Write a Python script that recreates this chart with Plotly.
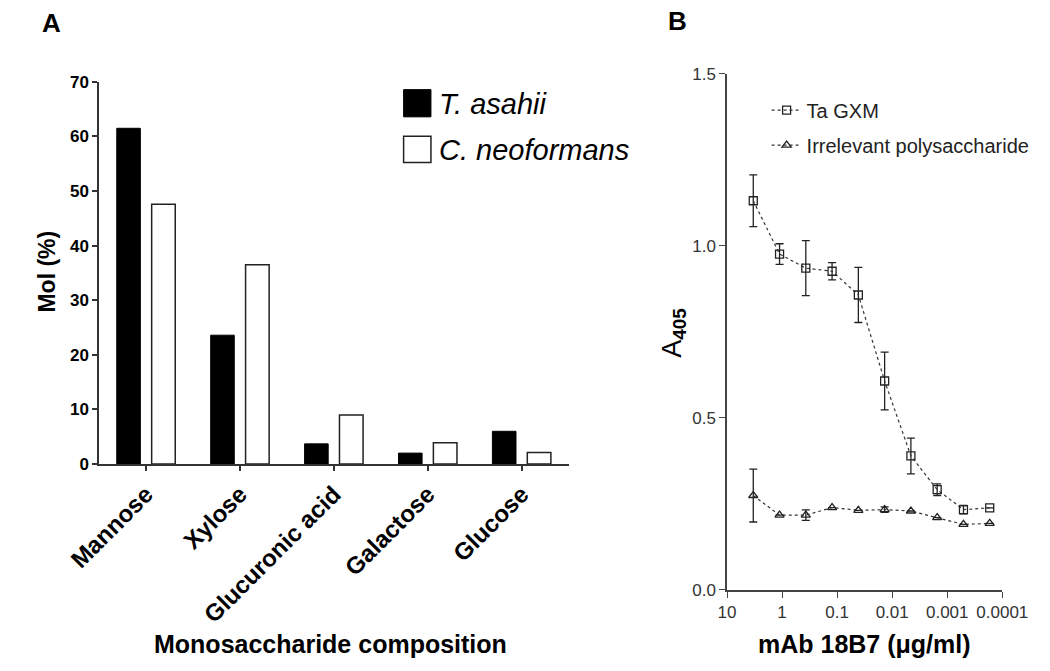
import plotly.graph_objects as go

# ---------------- Data ----------------
categories = ["Mannose", "Xylose", "Glucuronic acid", "Galactose", "Glucose"]
t_asahii = [61.5, 23.6, 3.7, 2.0, 6.0]
c_neoformans = [47.6, 36.5, 9.0, 3.9, 2.1]

mab_conc = [3.333, 1.111, 0.3704, 0.1235, 0.04115, 0.01372, 0.004572, 0.001524, 0.000508, 0.0001694]
ta_gxm = [1.131, 0.976, 0.935, 0.926, 0.857, 0.607, 0.389, 0.291, 0.233, 0.238]
ta_gxm_err = [0.075, 0.03, 0.08, 0.025, 0.08, 0.084, 0.052, 0.017, 0.012, 0.0]
irrelevant = [0.274, 0.217, 0.217, 0.239, 0.231, 0.233, 0.229, 0.210, 0.190, 0.193]
irrelevant_err = [0.077, 0.0, 0.015, 0.0, 0.0, 0.008, 0.0, 0.0, 0.0, 0.0]

x_tickvals = [10, 1, 0.1, 0.01, 0.001, 0.0001]
x_ticktext = ["10", "1", "0.1", "0.01", "0.001", "0.0001"]
y_tickvals_b = [0.0, 0.5, 1.0, 1.5]
y_ticktext_b = ["0.0", "0.5", "1.0", "1.5"]

W, H = 1050, 671
FONT = "Liberation Sans, Arial, Helvetica, sans-serif"


def px_x(p):
    return p / W


def px_y(p):
    return 1 - p / H


fig = go.Figure()

# ---------------- Panel A ----------------
fig.add_trace(go.Bar(
    x=categories, y=t_asahii, name="T. asahii",
    marker=dict(color="black", line=dict(color="black", width=1)),
    xaxis="x", yaxis="y", showlegend=False,
))
fig.add_trace(go.Bar(
    x=categories, y=c_neoformans, name="C. neoformans",
    marker=dict(color="white", line=dict(color="#222", width=1.5)),
    xaxis="x", yaxis="y", showlegend=False,
))

# ---------------- Panel B ----------------
line_col = "#333"
fig.add_trace(go.Scatter(
    x=mab_conc, y=ta_gxm, name="Ta GXM", mode="lines+markers",
    line=dict(color=line_col, width=1.2, dash="dot"),
    marker=dict(symbol="square-open", size=8, color="#222", line=dict(width=1.3)),
    error_y=dict(type="data", array=ta_gxm_err, visible=True, color="#222", thickness=1.3, width=4),
    xaxis="x2", yaxis="y2", legendgroup="g1",
))
fig.add_trace(go.Scatter(
    x=mab_conc, y=irrelevant, name="Irrelevant polysaccharide", mode="lines+markers",
    line=dict(color=line_col, width=1.2, dash="dot"),
    marker=dict(symbol="triangle-up-open", size=8, color="#222", line=dict(width=1.3)),
    error_y=dict(type="data", array=irrelevant_err, visible=True, color="#222", thickness=1.3, width=4),
    xaxis="x2", yaxis="y2", legendgroup="g2",
))

axis_common = dict(showgrid=False, zeroline=False, showline=True, ticks="outside")

fig.update_layout(
    width=W, height=H,
    margin=dict(l=0, r=0, t=0, b=0),
    paper_bgcolor="white", plot_bgcolor="white",
    font=dict(family=FONT, color="black"),
    barmode="group", bargap=0.257, bargroupgap=0.324,
    xaxis=dict(
        domain=[px_x(69), px_x(567)], anchor="y",
        type="category", categoryorder="array", categoryarray=categories,
        range=[-0.5, 4.5],
        linecolor="#333", linewidth=1.5, tickcolor="#333", ticklen=5, tickwidth=1.5,
        tickangle=-45, tickfont=dict(family=FONT, size=24, color="black", weight="bold"),
        **axis_common,
    ),
    yaxis=dict(
        domain=[px_y(468.3), px_y(75)], anchor="x",
        range=[0, 70], dtick=10, tick0=0,
        linecolor="#333", linewidth=1.5, tickcolor="#333", ticklen=5, tickwidth=1.5,
        tickfont=dict(family=FONT, size=17, color="black", weight="bold"),
        **axis_common,
    ),
    xaxis2=dict(
        domain=[px_x(735), px_x(1027)], anchor="y2",
        type="log", range=[1, -4],
        tickmode="array", tickvals=x_tickvals, ticktext=x_ticktext,
        linecolor="#444", linewidth=1.5, tickcolor="#444", ticklen=6, tickwidth=1.2,
        tickfont=dict(family=FONT, size=17, color="#333"),
        **axis_common,
    ),
    yaxis2=dict(
        domain=[px_y(597.7), px_y(66.7)], anchor="x2",
        range=[0, 1.5],
        tickmode="array", tickvals=y_tickvals_b, ticktext=y_ticktext_b,
        linecolor="#444", linewidth=1.5, tickcolor="#444", ticklen=6, tickwidth=1.2,
        tickfont=dict(family=FONT, size=17, color="#333"),
        **axis_common,
    ),
    legend=dict(
        x=px_x(777), y=px_y(84), xanchor="left", yanchor="top",
        font=dict(family=FONT, size=20, color="#222"),
        bgcolor="rgba(0,0,0,0)", tracegroupgap=6,
    ),
)

# Custom legend for panel A
fig.add_shape(type="rect", xref="paper", yref="paper",
              x0=px_x(392), x1=px_x(421), y0=px_y(111), y1=px_y(83),
              fillcolor="black", line=dict(color="black", width=1))
fig.add_shape(type="rect", xref="paper", yref="paper",
              x0=px_x(392), x1=px_x(421), y0=px_y(158), y1=px_y(131),
              fillcolor="white", line=dict(color="#222", width=1.5))

annots = [
    dict(text="<i>T. asahii</i>", x=px_x(427), y=px_y(98), xanchor="left", yanchor="middle",
         font=dict(family=FONT, size=29, color="black")),
    dict(text="<i>C. neoformans</i>", x=px_x(427), y=px_y(145), xanchor="left", yanchor="middle",
         font=dict(family=FONT, size=29, color="black")),
    dict(text="Mol (%)", x=px_x(14), y=px_y(270), xanchor="center", yanchor="middle", textangle=-90,
         font=dict(family=FONT, size=23, color="black", weight="bold")),
    dict(text="Monosaccharide composition", x=px_x(314), y=px_y(654), xanchor="center", yanchor="middle",
         font=dict(family=FONT, size=25, color="black", weight="bold")),
    dict(text="A", x=px_x(19), y=px_y(14), xanchor="center", yanchor="middle",
         font=dict(family=FONT, size=26, color="black", weight="bold")),
    dict(text="B", x=px_x(682), y=px_y(12), xanchor="center", yanchor="middle",
         font=dict(family=FONT, size=26, color="black", weight="bold")),
    dict(text="A<sub><b>405</b></sub>", x=px_x(678), y=px_y(333), xanchor="center", yanchor="middle",
         textangle=-90, font=dict(family=FONT, size=27, color="black")),
    dict(text="mAb 18B7 (μg/ml)", x=px_x(881), y=px_y(654), xanchor="center", yanchor="middle",
         font=dict(family=FONT, size=25, color="black", weight="bold")),
]
for a in annots:
    a.update(xref="paper", yref="paper", showarrow=False)
    fig.add_annotation(**a)

fig.write_html("out.html", config={"displayModeBar": False},
               post_script="document.body.style.margin='0px';")
